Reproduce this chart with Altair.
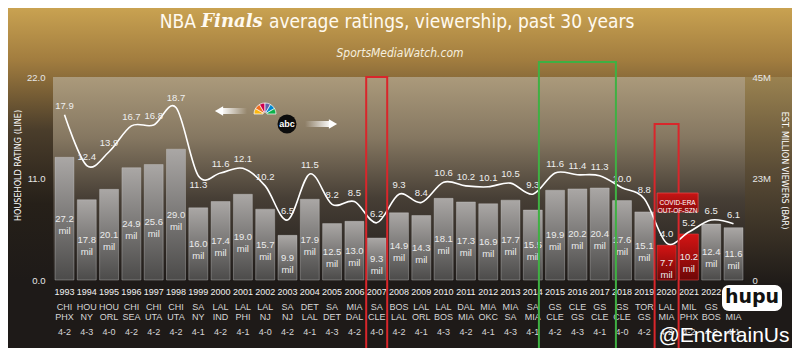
import altair as alt
import pandas as pd

# ---------------- data ----------------
years = [str(y) for y in range(1993, 2024)]
ratings = [17.9, 12.4, 13.9, 16.7, 16.8, 18.7, 11.3, 11.6, 12.1, 10.2, 6.5, 11.5, 8.2, 8.5, 6.2,
           9.3, 8.4, 10.6, 10.2, 10.1, 10.5, 9.3, 11.6, 11.4, 11.3, 10.0, 8.8, 4.0, 5.2, 6.5, 6.1]
viewers = [27.2, 17.8, 20.1, 24.9, 25.6, 29.0, 16.0, 17.4, 19.0, 15.7, 9.9, 17.9, 12.5, 13.0, 9.3,
           14.9, 14.3, 18.1, 17.3, 16.9, 17.7, 15.5, 19.9, 20.2, 20.4, 17.6, 15.1, 7.7, 10.2, 12.4, 11.6]
team1 = ["CHI", "HOU", "HOU", "CHI", "CHI", "CHI", "SA", "LAL", "LAL", "LAL", "SA", "DET", "SA", "MIA", "SA",
         "BOS", "LAL", "LAL", "DAL", "MIA", "MIA", "SA", "GS", "CLE", "GS", "GS", "TOR", "LAL", "MIL", "GS", "DEN"]
team2 = ["PHX", "NY", "ORL", "SEA", "UTA", "UTA", "NY", "IND", "PHI", "NJ", "NJ", "LAL", "DET", "DAL", "CLE",
         "LAL", "ORL", "BOS", "MIA", "OKC", "SA", "MIA", "CLE", "GS", "CLE", "CLE", "GS", "MIA", "PHX", "BOS", "MIA"]
scores = ["4-2", "4-3", "4-0", "4-2", "4-2", "4-2", "4-1", "4-2", "4-1", "4-0", "4-2", "4-1", "4-3", "4-2", "4-0",
          "4-2", "4-1", "4-3", "4-2", "4-1", "4-3", "4-1", "4-2", "4-3", "4-1", "4-0", "4-2", "4-2", "4-2", "4-2", "4-1"]
covid_years = ["2020", "2021"]
below_label_years = ["1999"]
feather_colors = ["#fcb711", "#f37021", "#cc004c", "#6460aa", "#0089d0", "#0db14b"]

df = pd.DataFrame({"year": years, "rating": ratings, "viewers": viewers,
                   "team1": team1, "team2": team2, "score": scores})
df["vlabel"] = df["viewers"].map(lambda v: f"{v:.1f}\nmil")
df["rlabel"] = df["rating"].map(lambda v: f"{v:.1f}")
df["covid"] = df["year"].isin(covid_years)
df["below"] = df["year"].isin(below_label_years)

feathers = pd.DataFrame({"c": feather_colors, "v": [1] * len(feather_colors),
                         "o": list(range(len(feather_colors)))})
one = pd.DataFrame({"a": [0]})

# ---------------- style ----------------
W, H = 692, 203
NARROW = "DejaVu Sans Condensed, Liberation Sans, sans-serif"
SANS = "Liberation Sans, Arial, Helvetica, sans-serif"


def grad(stops, horizontal=False):
    return alt.Gradient(
        gradient="linear",
        x1=0, y1=0, x2=1 if horizontal else 0, y2=0 if horizontal else 1,
        stops=[alt.GradientStop(offset=o, color=c) for o, c in stops],
    )


X = alt.X("year:N", sort=years,
          scale=alt.Scale(domain=years, paddingInner=0.15, paddingOuter=0.09), axis=None)
base = alt.Chart(df)
deco = alt.Chart(one)

# backgrounds
bg_outer = deco.mark_rect(fill=grad([(0, "#c9a251"), (0.19, "#a27d3f"), (0.45, "#4a3d2b"),
                                     (0.72, "#262019"), (1, "#1e1a18")])).encode(
    x=alt.value(-45), x2=alt.value(739), y=alt.value(-69), y2=alt.value(H))
bg_right = deco.mark_rect(fill=grad([(0, "#9a8250"), (0.45, "#5a4c36"), (1, "#1f1b18")])).encode(
    x=alt.value(W), x2=alt.value(739), y=alt.value(0), y2=alt.value(H + 3))
bg_plot = deco.mark_rect(fill=grad([(0, "#ab9a7b"), (0.3, "#857761"), (0.6, "#463e35"),
                                    (1, "#1f1b19")])).encode(
    x=alt.value(0), x2=alt.value(W), y=alt.value(0), y2=alt.value(H))

# bars
Yv = alt.Y("viewers:Q", scale=alt.Scale(domain=[0, 45], nice=False),
           axis=alt.Axis(orient="right", values=[0, 22.5, 45], zindex=2,
                         labelExpr="datum.value == 0 ? '0' : format(datum.value, '.0f') + 'M'",
                         labelColor="#e6e6e6", labelFontSize=9.5, labelFont=SANS, labelPadding=7,
                         ticks=False, domain=False, grid=False,
                         title="EST. MILLION VIEWERS (BAR)", titleFont=NARROW, titleFontSize=9,
                         titleFontWeight="normal", titleColor="#ffffff",
                         titleX=39, titleY=93, titleAngle=90, titleBaseline="middle"))
bars = base.mark_bar(fill=grad([(0, "#aaa7a5"), (1, "#4c4b4a")]), stroke="#cfcfcf",
                     strokeWidth=0.6, strokeOpacity=0.6).encode(x=X, y=Yv).transform_filter(
    "!datum.covid")
bars_red = base.mark_bar(fill=grad([(0, "#d41414"), (1, "#6e0707")]), stroke="#e04040",
                         strokeWidth=0.6).encode(
    x=X, y=alt.Y("viewers:Q", scale=alt.Scale(domain=[0, 45], nice=False), axis=None)
).transform_filter("datum.covid")
bar_text = base.mark_text(lineBreak="\n", fontSize=9.5, font=SANS, color="#ececec",
                          lineHeight=12).encode(
    x=X, y=alt.Y("mid:Q", scale=alt.Scale(domain=[0, 45], nice=False), axis=None),
    text="vlabel").transform_calculate(mid="datum.viewers / 2")

# line
Yr = alt.Y("rating:Q", scale=alt.Scale(domain=[0, 22], nice=False),
           axis=alt.Axis(orient="left", values=[0, 11, 22], format=".1f", zindex=2,
                         labelColor="#e6e6e6", labelFontSize=9.5, labelFont=SANS, labelPadding=8,
                         ticks=False, domain=False, grid=False,
                         title="HOUSEHOLD RATING (LINE)", titleFont=NARROW, titleFontSize=9,
                         titleFontWeight="normal", titleColor="#ffffff",
                         titleX=-36, titleY=88, titleAngle=-90, titleBaseline="middle"))
line = base.mark_line(interpolate="cardinal", color="#ffffff", strokeWidth=1.6).encode(x=X, y=Yr)
Yr2 = alt.Y("rating:Q", scale=alt.Scale(domain=[0, 22], nice=False), axis=None)
line_lab = base.mark_text(dy=-9, fontSize=9.5, font=SANS, color="#efefef").encode(
    x=X, y=Yr2, text="rlabel").transform_filter("!datum.below")
line_lab2 = base.mark_text(dy=9, fontSize=9.5, font=SANS, color="#efefef").encode(
    x=X, y=Yr2, text="rlabel").transform_filter("datum.below")

# x labels
yr_lab = base.mark_text(fontSize=9, font=SANS, color="#f2f2f2").encode(
    x=X, y=alt.value(215), text="year")
t1_lab = base.mark_text(fontSize=9, font=SANS, color="#d6d6d6").encode(
    x=X, y=alt.value(230), text="team1")
t2_lab = base.mark_text(fontSize=9, font=SANS, color="#d6d6d6").encode(
    x=X, y=alt.value(240), text="team2")
sc_lab = base.mark_text(fontSize=9, font=SANS, color="#d6d6d6").encode(
    x=X, y=alt.value(255), text="score")

# highlight boxes
box07 = base.mark_bar(fillOpacity=0, stroke="#d9262b", strokeWidth=2, width=21).encode(
    x=X, y=alt.value(0), y2=alt.value(275)).transform_filter("datum.year == '2007'")
box16 = base.mark_bar(fillOpacity=0, stroke="#3fb043", strokeWidth=2, width=77).encode(
    x=X, y=alt.value(-15), y2=alt.value(275)).transform_filter("datum.year == '2016'")
box20 = base.mark_bar(fillOpacity=0, stroke="#d9262b", strokeWidth=2, width=24).encode(
    x=X, y=alt.value(47), y2=alt.value(275)).transform_filter("datum.year == '2020'")
covid_box = base.mark_bar(fill=grad([(0, "#c81414"), (1, "#8a0a0a")]), stroke="#e24848",
                          strokeWidth=0.8, width=41, xOffset=11).encode(
    x=X, y=alt.value(116), y2=alt.value(135)).transform_filter("datum.year == '2020'")
covid_txt = base.mark_text(text=["COVID-ERA", "OUT-OF-SZN"], fontSize=6.5, font=SANS,
                           color="#ffffff", dx=11, lineHeight=8).encode(
    x=X, y=alt.value(125.5)).transform_filter("datum.year == '2020'")

# title
t_nba = deco.mark_text(text="NBA", align="right", font=NARROW, fontSize=19, color="#fffaf0").encode(
    x=alt.value(143), y=alt.value(-55))
t_fin = deco.mark_text(text="Finals", align="center", font="DejaVu Serif", fontStyle="italic",
                       fontWeight="bold", fontSize=18, color="#fffaf0").encode(
    x=alt.value(179), y=alt.value(-55))
t_rest = deco.mark_text(text="average ratings, viewership, past 30 years", align="left",
                        font=NARROW, fontSize=19, color="#fffaf0").encode(
    x=alt.value(216), y=alt.value(-55))
t_sub = deco.mark_text(text="SportsMediaWatch.com", align="center", font=NARROW,
                       fontStyle="italic", fontSize=12, color="#f6efdf").encode(
    x=alt.value(347), y=alt.value(-24))

# network logos
arrowL = deco.mark_rect(fill=grad([(0, "#ffffff"), (1, "rgba(255,255,255,0)")], horizontal=True)).encode(
    x=alt.value(168), x2=alt.value(194), y=alt.value(31), y2=alt.value(37))
arrowL_h = deco.mark_point(shape="triangle-left", filled=True, size=90, color="#ffffff",
                           opacity=1).encode(x=alt.value(166), y=alt.value(34))
peacock = alt.Chart(feathers).mark_arc(outerRadius=11, innerRadius=2, stroke="#ffffff",
                                       strokeWidth=0.7).encode(
    theta=alt.Theta("v:Q", stack=True, scale=alt.Scale(range=[-1.5708, 1.5708])),
    order=alt.Order("o:Q"),
    fill=alt.Fill("c:N", scale=None),
    x=alt.value(212), y=alt.value(37))
abc_c = deco.mark_circle(size=360, color="#0c0c0c", opacity=1).encode(
    x=alt.value(234), y=alt.value(47))
abc_t = deco.mark_text(text="abc", font=SANS, fontWeight="bold", fontSize=9, color="#ffffff").encode(
    x=alt.value(234), y=alt.value(47))
arrowR = deco.mark_rect(fill=grad([(0, "rgba(255,255,255,0)"), (1, "#ffffff")], horizontal=True)).encode(
    x=alt.value(252), x2=alt.value(278), y=alt.value(44), y2=alt.value(50))
arrowR_h = deco.mark_point(shape="triangle-right", filled=True, size=90, color="#ffffff",
                           opacity=1).encode(x=alt.value(280), y=alt.value(47))

# watermarks
hupu_bg = deco.mark_rect(fill="#ffffff", cornerRadius=7).encode(
    x=alt.value(669), x2=alt.value(729), y=alt.value(208), y2=alt.value(234))
hupu_t = deco.mark_text(text="hupu", font="DejaVu Sans", fontWeight="bold", fontSize=19,
                        color="#111111").encode(x=alt.value(699), y=alt.value(220))
ent = deco.mark_text(text="@EntertainUs", font=SANS, fontSize=21, color="#ffffff",
                     baseline="alphabetic").encode(x=alt.value(671), y=alt.value(265))

chart = alt.layer(
    bg_outer, bg_right, bg_plot,
    bars, bars_red, bar_text,
    line, line_lab, line_lab2,
    yr_lab, t1_lab, t2_lab, sc_lab,
    box07, box16, box20, covid_box, covid_txt,
    t_nba, t_fin, t_rest, t_sub,
    arrowL, arrowL_h, peacock, abc_c, abc_t, arrowR, arrowR_h,
    hupu_bg, hupu_t, ent,
).resolve_scale(y="independent").properties(
    width=W, height=H,
    autosize=alt.AutoSizeParams(type="none"),
    padding={"left": 45, "top": 69, "right": 47, "bottom": 68},
    background="#1e1a18",
).configure_view(stroke=None)

chart.save("out.html", embed_options={"renderer": "svg", "actions": False})
